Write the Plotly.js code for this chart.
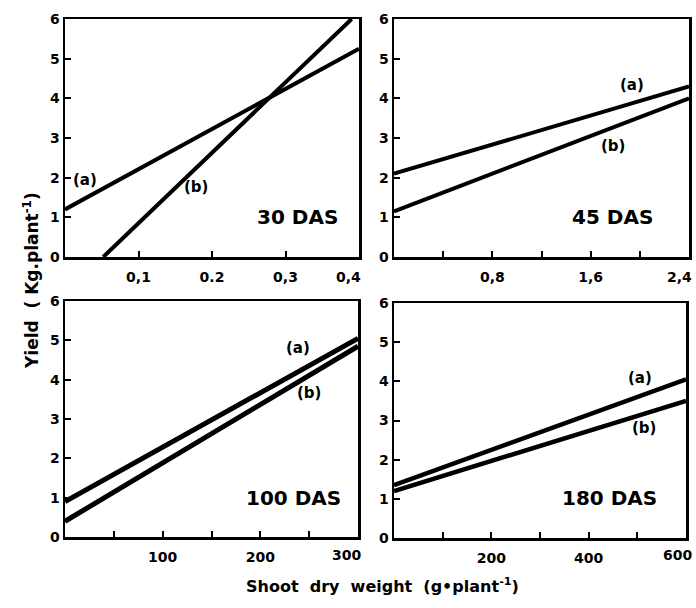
<!DOCTYPE html>
<html>
<head>
<meta charset="utf-8">
<script src="https://cdn.plot.ly/plotly-3.0.1.min.js"></script>
<style>html,body{margin:0;padding:0;background:#fff;}#chart{width:696px;height:608px;}</style>
</head>
<body>
<div id="chart"></div>
<script>
// Panel data (line endpoints)
const p30_a_x = [0, 0.4];      const p30_a_y = [1.2, 5.25];
const p30_b_x = [0.052, 0.39]; const p30_b_y = [0, 6];
const p45_a_x = [0, 2.4];      const p45_a_y = [2.1, 4.3];
const p45_b_x = [0, 2.4];      const p45_b_y = [1.15, 4.0];
const p100_a_x = [0, 300];     const p100_a_y = [0.9, 5.05];
const p100_b_x = [0, 300];     const p100_b_y = [0.4, 4.85];
const p180_a_x = [0, 600];     const p180_a_y = [1.35, 4.05];
const p180_b_x = [0, 600];     const p180_b_y = [1.2, 3.5];

const yTickVals = [0, 1, 2, 3, 4, 5, 6];
const yTickText = ["0", "1", "2", "3", "4", "5", "6"];
// labelled ticks inside each x range; the label at the right edge of each panel is listed separately
const x30TickVals = [0.1, 0.2, 0.3];
const x30TickText = ["0,1", "0.2", "0,3"];
const x30Minor = [];
const x30EdgeLabel = "0,4";
const x45TickVals = [0.8, 1.6];
const x45TickText = ["0,8", "1,6"];
const x45Minor = [0.4, 1.2, 2.0];
const x45EdgeLabel = "2,4";
const x100TickVals = [100, 200];
const x100TickText = ["100", "200"];
const x100Minor = [50, 150, 250];
const x100EdgeLabel = "300";
const x180TickVals = [200, 400];
const x180TickText = ["200", "400"];
const x180Minor = [100, 300, 500];
const x180EdgeLabel = "600";
const panelNames = ["30 DAS", "45 DAS", "100 DAS", "180 DAS"];

const FONT = "DejaVu Sans, Arial, sans-serif";

function tr(x, y, n, w) {
  return {x: x, y: y, xaxis: "x" + (n > 1 ? n : ""), yaxis: "y" + (n > 1 ? n : ""),
          type: "scatter", mode: "lines", line: {color: "black", width: w}, hoverinfo: "skip", showlegend: false};
}
const data = [
  tr(p30_a_x, p30_a_y, 1, 4), tr(p30_b_x, p30_b_y, 1, 4),
  tr(p45_a_x, p45_a_y, 2, 4), tr(p45_b_x, p45_b_y, 2, 4),
  tr(p100_a_x, p100_a_y, 3, 5), tr(p100_b_x, p100_b_y, 3, 5),
  tr(p180_a_x, p180_a_y, 4, 4.5), tr(p180_b_x, p180_b_y, 4, 4.5)
];

function xax(domain, range, tv, tt, minor, anchor) {
  const a = {domain: domain, range: range, anchor: anchor, tickmode: "array", tickvals: tv, ticktext: tt,
          ticks: "inside", ticklen: 6, tickwidth: 2, tickcolor: "black", ticklabelstandoff: 6,
          showline: true, mirror: true, linewidth: 2.5, linecolor: "black",
          showgrid: false, zeroline: false, fixedrange: true,
          tickfont: {family: FONT, size: 14, color: "black", weight: "bold"}};
  if (minor.length) a.minor = {tickmode: "array", tickvals: minor, ticks: "inside", ticklen: 6, tickwidth: 2,
                               tickcolor: "black", showgrid: false};
  return a;
}
function yax(domain, anchor) {
  return {domain: domain, range: [0, 6], anchor: anchor, tickmode: "array", tickvals: yTickVals, ticktext: yTickText,
          ticks: "inside", ticklen: 6, tickwidth: 2, tickcolor: "black",
          showline: true, mirror: true, linewidth: 2.5, linecolor: "black",
          showgrid: false, zeroline: false, fixedrange: true,
          tickfont: {family: FONT, size: 14, color: "black", weight: "bold"}};
}

const W = 696, H = 608;
const dx = (a, b) => [a / W, b / W];
const dy = (top, bot) => [1 - bot / H, 1 - top / H];

function ann(text, x, y, n, size) {
  return {text: text, x: x, y: y, xref: "x" + (n > 1 ? n : ""), yref: "y" + (n > 1 ? n : ""),
          showarrow: false, font: {family: FONT, size: size, color: "black", weight: "bold"}};
}
function edge(text, xr, ypx) {
  return {text: text, x: xr / W, y: 1 - ypx / H, xref: "paper", yref: "paper", xanchor: "right", yanchor: "middle",
          showarrow: false, font: {family: FONT, size: 14, color: "black", weight: "bold"}};
}

const layout = {
  width: W, height: H,
  margin: {l: 0, r: 0, t: 0, b: 0},
  paper_bgcolor: "white", plot_bgcolor: "white",
  xaxis: xax(dx(65, 359), [0, 0.4], x30TickVals, x30TickText, x30Minor, "y"),
  yaxis: yax(dy(19, 257), "x"),
  xaxis2: xax(dx(394, 689), [0, 2.4], x45TickVals, x45TickText, x45Minor, "y2"),
  yaxis2: yax(dy(19, 257), "x2"),
  xaxis3: xax(dx(65, 358), [0, 300], x100TickVals, x100TickText, x100Minor, "y3"),
  yaxis3: yax(dy(301, 537), "x3"),
  xaxis4: xax(dx(394, 686), [0, 600], x180TickVals, x180TickText, x180Minor, "y4"),
  yaxis4: yax(dy(303, 538), "x4"),
  annotations: [
    ann("(a)", 0.027, 1.94, 1, 15), ann("(b)", 0.178, 1.77, 1, 15), ann(panelNames[0], 0.316, 1.0, 1, 20),
    ann("(a)", 1.94, 4.34, 2, 15), ann("(b)", 1.78, 2.8, 2, 15), ann(panelNames[1], 1.78, 1.0, 2, 20),
    ann("(a)", 239, 4.81, 3, 15), ann("(b)", 250, 3.66, 3, 15), ann(panelNames[2], 234, 0.99, 3, 20),
    ann("(a)", 505, 4.08, 4, 15), ann("(b)", 513, 2.8, 4, 15), ann(panelNames[3], 443, 1.02, 4, 20),
    edge(x30EdgeLabel, 363, 277), edge(x45EdgeLabel, 694, 277),
    edge(x100EdgeLabel, 363, 555), edge(x180EdgeLabel, 694, 555),
    {text: "Yield  ( Kg.plant<sup>-1</sup>)", textangle: -90, x: 18 / W, y: 1 - 281 / H,
     xref: "paper", yref: "paper", showarrow: false,
     font: {family: FONT, size: 17, color: "black", weight: "bold"}},
    {text: "Shoot  dry  weight  (g\u2022plant<sup>-1</sup>)", x: 382 / W, y: 1 - 598 / H,
     xref: "paper", yref: "paper", showarrow: false,
     font: {family: FONT, size: 16, color: "black", weight: "bold"}}
  ]
};

Plotly.newPlot("chart", data, layout, {staticPlot: true, displayModeBar: false});
</script>
</body>
</html>
